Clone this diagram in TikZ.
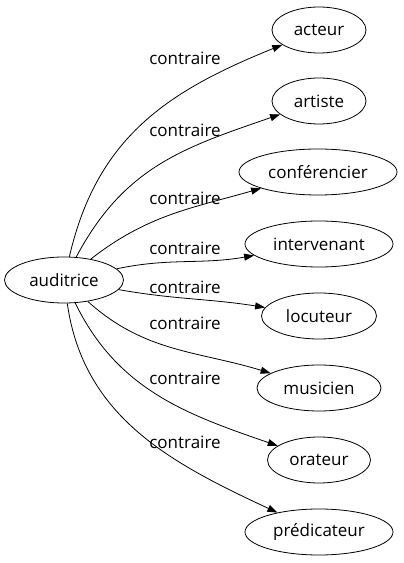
\documentclass[tikz,border=0pt]{standalone}
\usepackage{fontspec}
\setmainfont{Open Sans}
\usetikzlibrary{shapes.geometric, arrows.meta}
\tikzset{
    word/.style = {
        draw, ellipse, inner sep = 0pt,
        minimum height = 46pt,
        font = \fontsize{17}{20}\selectfont
    },
    lbl/.style = {font = \fontsize{17}{20}\selectfont},
    line/.style = {-{Triangle[length=10pt,width=7pt]}}
}
\begin{document}
\begin{tikzpicture}[x=1pt, y=1pt, line width=0.8pt]

    \useasboundingbox (0,0) rectangle (404,563);

    % Source word
    \node[word, minimum width = 119pt] (auditrice) at (64,283) {auditrice};

    % Contraires
    \node[word, minimum width = 94pt] (acteur) at (319,533) {acteur};
    \node[word, minimum width = 94pt] (artiste) at (319,462) {artiste};
    \node[word, minimum width = 158pt] (conferencier) at (318,391) {conférencier};
    \node[word, minimum width = 148pt] (intervenant) at (319,319) {intervenant};
    \node[word, minimum width = 115pt] (locuteur) at (319,247) {locuteur};
    \node[word, minimum width = 124pt] (musicien) at (319,175) {musicien};
    \node[word, minimum width = 103pt] (orateur) at (319,103) {orateur};
    \node[word, minimum width = 148pt] (predicateur) at (319,31) {prédicateur};

    % Edges
    \draw[line] (auditrice) to[out=77, in=202, looseness=1.05] (acteur);
    \draw[line] (auditrice) to[out=62, in=199, looseness=1.05] (artiste);
    \draw[line] (auditrice) to[out=38, in=196] (conferencier);
    \draw[line] (auditrice) to[out=12, in=190] (intervenant);
    \draw[line] (auditrice) to[out=-10, in=171] (locuteur);
    \draw[line] (auditrice) to[out=-42, in=163] (musicien);
    \draw[line] (auditrice) to[out=-64, in=161] (orateur);
    \draw[line] (auditrice) to[out=-82, in=155] (predicateur);

    % Labels
    \node[lbl] (l1) at (185,505) {contraire};
    \node[lbl] (l2) at (185,433) {contraire};
    \node[lbl] (l3) at (185,365) {contraire};
    \node[lbl] (l4) at (185,315) {contraire};
    \node[lbl] (l5) at (185,276) {contraire};
    \node[lbl] (l6) at (185,240) {contraire};
    \node[lbl] (l7) at (185,185) {contraire};
    \node[lbl] (l8) at (185,121) {contraire};

\end{tikzpicture}
\end{document}
